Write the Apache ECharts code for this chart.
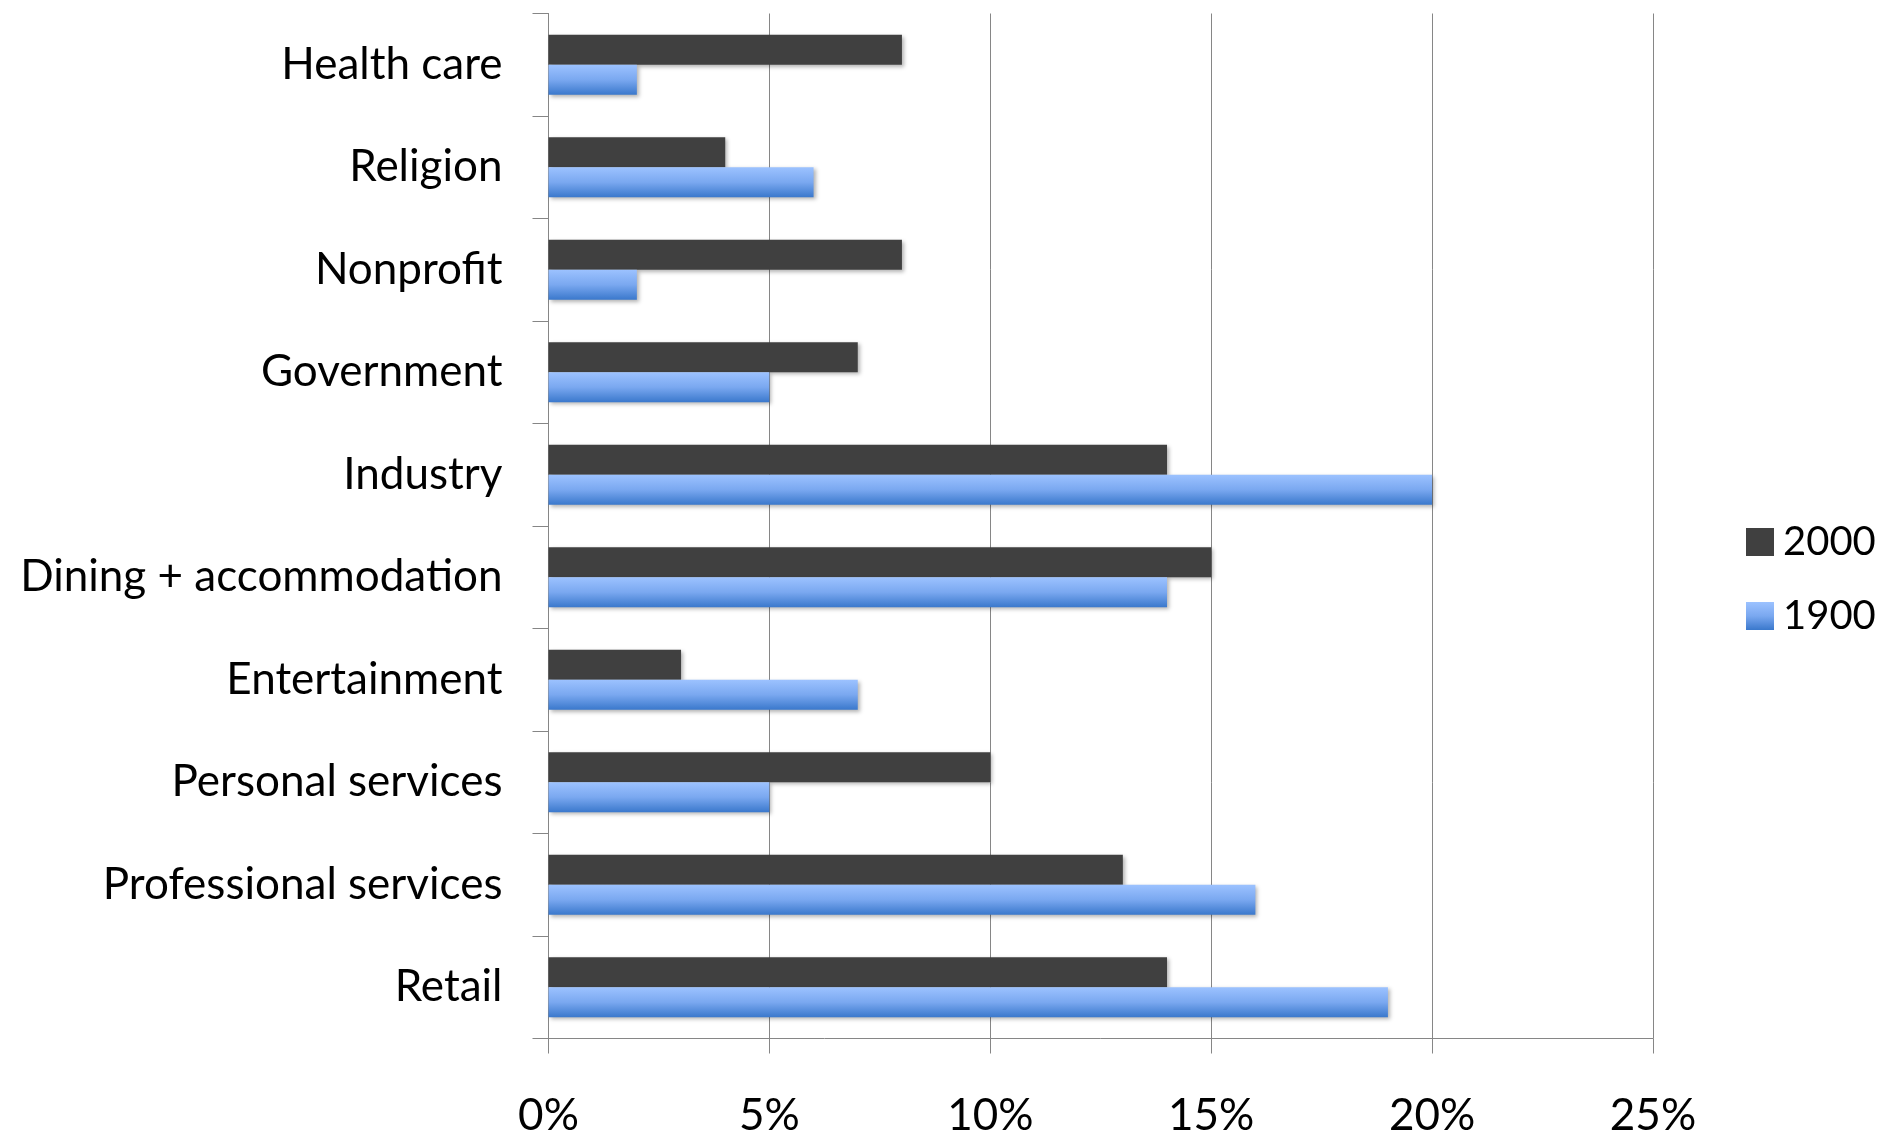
<!DOCTYPE html>
<html>
<head>
<meta charset="utf-8">
<script src="https://cdn.jsdelivr.net/npm/echarts@6/dist/echarts.min.js"></script>
<style>
  html, body { margin: 0; padding: 0; background: #fff; }
  #chart { width: 1882px; height: 1132px; }
</style>
</head>
<body>
<div id="chart"></div>
<script>
// Sectors, listed from the bottom of the chart upward
const categories = [
  'Retail',
  'Professional services',
  'Personal services',
  'Entertainment',
  'Dining + accommodation',
  'Industry',
  'Government',
  'Nonprofit',
  'Religion',
  'Health care'
];

// Share of businesses per sector (fractions)
const values2000 = [0.14, 0.13, 0.10, 0.03, 0.15, 0.14, 0.07, 0.08, 0.04, 0.08];
const values1900 = [0.19, 0.16, 0.05, 0.07, 0.14, 0.20, 0.05, 0.02, 0.06, 0.02];

const xTicks = [0, 0.05, 0.10, 0.15, 0.20, 0.25];

const FONT = 'Lato';
const gridGray = '#868686';

const blueGradient = new echarts.graphic.LinearGradient(0, 0, 0, 1, [
  { offset: 0, color: '#9cc2ff' },
  { offset: 0.5, color: '#7aa8f0' },
  { offset: 1, color: '#3a78cc' }
]);

const barShadow = {
  shadowColor: 'rgba(0,0,0,0.3)',
  shadowBlur: 4,
  shadowOffsetX: 2,
  shadowOffsetY: 2
};

const chart = echarts.init(document.getElementById('chart'));
chart.setOption({
  animation: false,
  backgroundColor: '#ffffff',
  grid: {
    left: 548.5, right: 229, top: 13.5, bottom: 93.5,
    containLabel: false,
    outerBoundsMode: 'none'
  },
  legend: {
    orient: 'vertical',
    left: 1741,
    top: 517,
    icon: 'rect',
    itemWidth: 28,
    itemHeight: 28,
    itemGap: 34,
    data: ['2000', '1900'],
    textStyle: { fontFamily: FONT, fontSize: 40, color: '#000', lineHeight: 40, padding: [0, 0, 0, 4] }
  },
  xAxis: {
    type: 'value',
    min: xTicks[0],
    max: xTicks[xTicks.length - 1],
    interval: 0.05,
    axisLine: { show: true, lineStyle: { color: gridGray, width: 1 } },
    axisTick: { show: true, length: 15, lineStyle: { color: gridGray } },
    splitLine: { show: true, lineStyle: { color: gridGray, width: 1 } },
    axisLabel: {
      margin: 55,
      fontFamily: FONT,
      fontSize: 44,
      color: '#000',
      formatter: v => Math.round(v * 100) + '%'
    }
  },
  yAxis: {
    type: 'category',
    data: categories,
    axisLine: { show: true, lineStyle: { color: gridGray, width: 1 } },
    axisTick: { show: true, length: 16, lineStyle: { color: gridGray } },
    splitLine: { show: false },
    axisLabel: {
      margin: 46,
      fontFamily: FONT,
      fontSize: 44,
      color: '#000'
    }
  },
  series: [
    {
      name: '2000',
      type: 'bar',
      data: values2000,
      barWidth: 30,
      barGap: '0%',
      itemStyle: Object.assign({ color: '#404040' }, barShadow)
    },
    {
      name: '1900',
      type: 'bar',
      data: values1900,
      barWidth: 30,
      barGap: '0%',
      itemStyle: Object.assign({ color: blueGradient }, barShadow)
    }
  ]
});
</script>
</body>
</html>
